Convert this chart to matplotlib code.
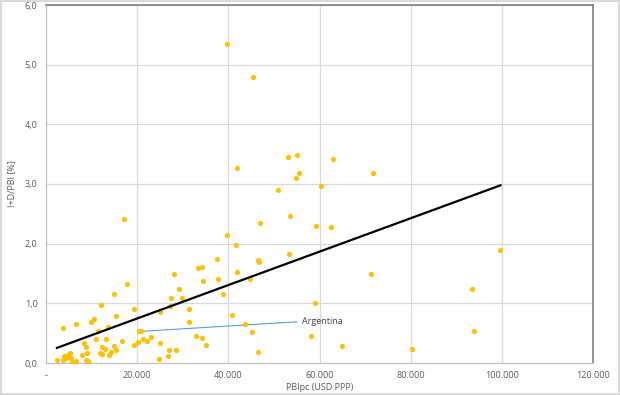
import numpy as np
import matplotlib
matplotlib.use('Agg')
import matplotlib.pyplot as plt
from matplotlib.ticker import FuncFormatter, MultipleLocator

# PBI per capita (USD PPP) e I+D/PBI (%) por país
pbipc = [2400, 3700, 4000, 3800, 4400, 4900, 5300, 5400, 5600, 6500,
         6500, 7800, 8300, 8800, 8900, 8800, 9300, 9800, 10600, 11400,
         12000, 11000, 12200, 11800, 12300, 12900, 13200, 13500, 13900, 14300,
         14900, 14900, 15300, 15400, 16700, 17200, 17800, 19200, 19200, 20100,
         21200, 20500, 20800, 22200, 23000, 24900, 24700, 24900, 26900, 26800,
         28500, 27400, 27300, 28000, 29100, 29900, 31400, 31400, 32800, 34200,
         35000, 33300, 34200, 34400, 37600, 37700, 38900, 39600, 39700, 40700,
         41600, 42000, 42000, 43700, 44700, 45300, 45400, 46400, 46400, 46700,
         46900, 51000, 53000, 53300, 53600, 54800, 55100, 55600, 58100, 59000,
         59300, 60300, 62600, 63000, 65000, 71400, 71700, 80300, 93400, 93900,
         99700]
id_pbi = [0.05, 0.59, 0.11, 0.05, 0.09, 0.13, 0.17, 0.08, 0.01, 0.03,
          0.65, 0.13, 0.33, 0.27, 0.16, 0.05, 0.04, 0.69, 0.74, 0.53,
          0.97, 0.41, 0.27, 0.17, 0.15, 0.23, 0.40, 0.61, 0.13, 0.19,
          0.29, 1.16, 0.79, 0.21, 0.37, 2.41, 1.33, 0.90, 0.30, 0.36,
          0.40, 0.54, 0.53, 0.37, 0.44, 0.34, 0.06, 0.85, 0.22, 0.12,
          0.21, 1.09, 0.96, 1.49, 1.24, 1.09, 0.90, 0.68, 0.46, 0.42,
          0.31, 1.59, 1.61, 1.38, 1.75, 1.41, 1.15, 5.35, 2.14, 0.81,
          1.98, 1.53, 3.27, 0.66, 1.40, 0.52, 4.79, 0.18, 1.72, 1.69,
          2.34, 2.90, 3.46, 1.83, 2.47, 3.10, 3.49, 3.19, 0.45, 1.00,
          2.30, 2.97, 2.28, 3.42, 0.28, 1.49, 3.19, 0.23, 1.24, 0.54,
          1.89]

# tendencia lineal
trend_a = 0.186
trend_b = 2.8e-5

# Argentina
arg_x, arg_y = 20800, 0.53
arg_label_x, arg_label_y = 55000, 0.69

gris = '#595959'
plt.rcParams['font.family'] = ['Open Sans', 'DejaVu Sans']

fig = plt.figure(figsize=(6.2, 3.95), dpi=100)
fig.patch.set_edgecolor('#d9d9d9')
fig.patch.set_linewidth(1.5)
ax = fig.add_axes([46/620, 32/395, 547/620, 358/395])

ax.scatter(pbipc, id_pbi, s=14, color='#FFC000', zorder=3, linewidths=0)

xt = np.array([min(pbipc), max(pbipc)])
ax.plot(xt, trend_a + trend_b * xt, color='black', lw=1.6, zorder=4)

ax.plot([arg_x, arg_label_x], [arg_y, arg_label_y], color='#5B9BD5', lw=0.8, zorder=2)
ax.text(arg_label_x + 1200, arg_label_y, 'Argentina', fontsize=6.5, color='#404040',
        va='center', ha='left')

ax.set_xlim(0, 120000)
ax.set_ylim(0, 6)
ax.xaxis.set_major_locator(MultipleLocator(20000))
ax.yaxis.set_major_locator(MultipleLocator(1))
ax.xaxis.set_major_formatter(FuncFormatter(
    lambda v, p: '-' if v == 0 else f'{v:,.0f}'.replace(',', '.')))
ax.yaxis.set_major_formatter(FuncFormatter(lambda v, p: f'{v:.1f}'.replace('.', ',')))
ax.tick_params(length=0, labelsize=6.5, labelcolor=gris, pad=6)
ax.grid(True, color='#d9d9d9', lw=0.9)
ax.set_axisbelow(True)

for s in ['left', 'bottom']:
    ax.spines[s].set_color('#bfbfbf')
for s in ['top', 'right']:
    ax.spines[s].set_color('#808080')
    ax.spines[s].set_linewidth(1.2)

ax.set_xlabel('PBIpc (USD PPP)', fontsize=6.5, color=gris, labelpad=2)
ax.set_ylabel('I+D/PBI [%]', fontsize=6.5, color=gris, labelpad=6)

fig.savefig('out.png', dpi=100)
